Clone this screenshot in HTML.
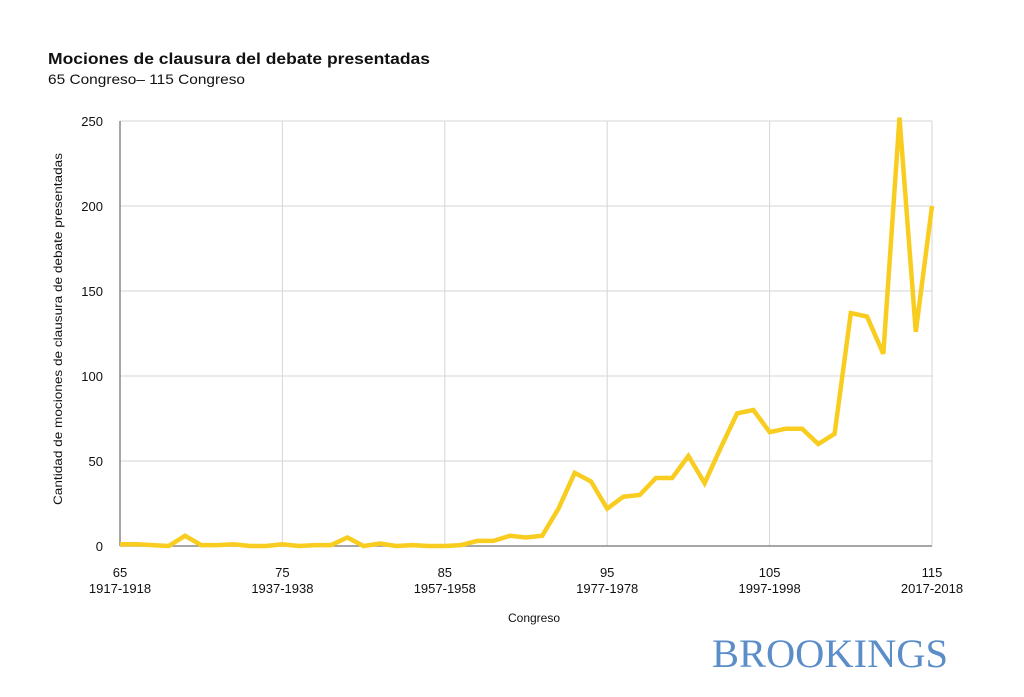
<!DOCTYPE html>
<html><head><meta charset="utf-8"><style>
body{margin:0;background:#fff;}
svg text{font-family:"Liberation Sans",sans-serif;}
</style></head><body>
<svg id="chart" width="1024" height="692" xmlns="http://www.w3.org/2000/svg">
<text x="48" y="64" font-size="16" font-weight="bold" fill="#111" textLength="382" lengthAdjust="spacingAndGlyphs">Mociones de clausura del debate presentadas</text>
<text x="48" y="84" font-size="14" fill="#111" textLength="197" lengthAdjust="spacingAndGlyphs">65 Congreso– 115 Congreso</text>
<g id="grid"></g>
<g id="axes"></g>
<path id="line" fill="none" stroke="#f8cd1f" stroke-width="4.5" stroke-linejoin="miter"/>
<text x="534" y="622" font-size="12" text-anchor="middle" fill="#111">Congreso</text>
<text transform="translate(62,329) rotate(-90)" font-size="12" text-anchor="middle" fill="#111" textLength="352" lengthAdjust="spacingAndGlyphs">Cantidad de mociones de clausura de debate presentadas</text>
<text x="712" y="667" font-size="40" textLength="236" lengthAdjust="spacingAndGlyphs" fill="#5b8ec9" style="font-family:'Liberation Serif',serif">BROOKINGS</text>
</svg>
<script>
const congressStart = 65;
const values = [1,1,0.5,0,6,0.5,0.5,1,0,0,1,0,0.5,0.5,5,0,1.5,0,0.5,0,0,0.5,3,3,6,5,6,22,43,38,22,29,30,40,40,53,37,58,78,80,67,69,69,60,66,137,135,113,252,126,200];
const yTicks = [0,50,100,150,200,250];
const xTickCongress = [65,75,85,95,105,115];
const xTickYears = ["1917-1918","1937-1938","1957-1958","1977-1978","1997-1998","2017-2018"];
const X0=120,X1=932,Y0=546,Y1=121;
const xs = c => X0 + (c-65)/(115-65)*(X1-X0);
const ys = v => Y0 - v/250*(Y0-Y1);
const NS="http://www.w3.org/2000/svg";
const grid=document.getElementById('grid'), axes=document.getElementById('axes');
function mk(tag,attrs,parent){const e=document.createElementNS(NS,tag);for(const k in attrs)e.setAttribute(k,attrs[k]);parent.appendChild(e);return e;}
yTicks.forEach(t=>{
  if(t>0){const l=mk('line',{x1:X0,x2:X1,y1:ys(t),y2:ys(t),stroke:'#d6d6d6','stroke-width':1},grid);
  
  }
  const tx=mk('text',{x:103,y:ys(t)+5,'font-size':13,'text-anchor':'end',fill:'#111'},axes);
  tx.textContent=t;
  
  
});
xTickCongress.forEach((c,i)=>{
  if(c>65){const l=mk('line',{x1:xs(c),x2:xs(c),y1:Y1,y2:Y0,stroke:'#d6d6d6','stroke-width':1},grid);
  
  }
  const t1=mk('text',{x:xs(c),y:577,'font-size':13,'text-anchor':'middle',fill:'#111'},axes);
  t1.textContent=c;
  
  
  const t2=mk('text',{x:xs(c),y:593,'font-size':13,'text-anchor':'middle',fill:'#111'},axes);
  t2.textContent=xTickYears[i];
  
  
});
const ya=mk('line',{x1:X0,x2:X0,y1:Y1,y2:Y0,stroke:'#888','stroke-width':1.5},axes);


const xa=mk('line',{x1:X0,x2:X1,y1:Y0,y2:Y0,stroke:'#888','stroke-width':1.5},axes);


document.getElementById('line').setAttribute('d',values.map((v,i)=>(i?'L':'M')+xs(congressStart+i).toFixed(1)+','+ys(v).toFixed(1)).join(''));
</script>
</body></html>
